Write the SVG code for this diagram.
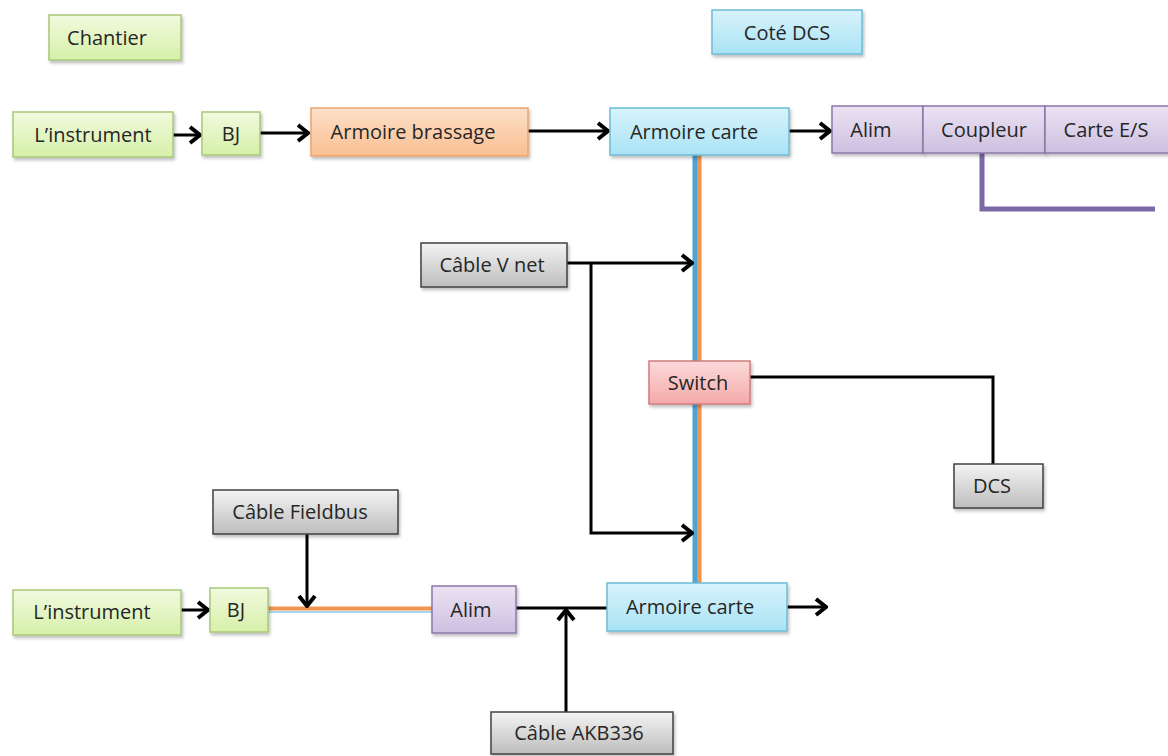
<svg xmlns="http://www.w3.org/2000/svg" width="1168" height="756" viewBox="0 0 1168 756">
<defs>
  <linearGradient id="gGreen" x1="0" y1="0" x2="0" y2="1"><stop offset="0" stop-color="#f1fadf"/><stop offset="1" stop-color="#d6f0a8"/></linearGradient>
  <linearGradient id="gOrange" x1="0" y1="0" x2="0" y2="1"><stop offset="0" stop-color="#fde0c8"/><stop offset="1" stop-color="#f9bf92"/></linearGradient>
  <linearGradient id="gBlue" x1="0" y1="0" x2="0" y2="1"><stop offset="0" stop-color="#d8f3fb"/><stop offset="1" stop-color="#a9e3f5"/></linearGradient>
  <linearGradient id="gPurple" x1="0" y1="0" x2="0" y2="1"><stop offset="0" stop-color="#ebe3f3"/><stop offset="1" stop-color="#cdbfe0"/></linearGradient>
  <linearGradient id="gPink" x1="0" y1="0" x2="0" y2="1"><stop offset="0" stop-color="#fcdada"/><stop offset="1" stop-color="#f5a9a9"/></linearGradient>
  <linearGradient id="gGray" x1="0" y1="0" x2="0" y2="1"><stop offset="0" stop-color="#f4f4f4"/><stop offset="1" stop-color="#bdbdbd"/></linearGradient>
  <filter id="sh" x="-10%" y="-20%" width="130%" height="160%"><feDropShadow dx="1.5" dy="2.5" stdDeviation="1.5" flood-color="#000" flood-opacity="0.25"/></filter>
  <marker id="arr" markerUnits="userSpaceOnUse" viewBox="-13 -10 15 20" refX="0" refY="0" markerWidth="15" markerHeight="20" orient="auto">
    <path d="M-10,-8 L0,0 L-10,8" fill="none" stroke="#000" stroke-width="4" stroke-linejoin="miter"/>
  </marker>
</defs>
<style>
  text { font-family: "Open Sans", "Liberation Sans", sans-serif; font-size: 20px; fill: #262626; text-anchor: middle; }
  .box { filter: url(#sh); stroke-width: 1.5; }
  .green { fill: url(#gGreen); stroke: #a9c77a; }
  .orange { fill: url(#gOrange); stroke: #eba46e; }
  .blue { fill: url(#gBlue); stroke: #6bbcd6; }
  .purple { fill: url(#gPurple); stroke: #8b78a8; }
  .pink { fill: url(#gPink); stroke: #d07c7c; }
  .gray { fill: url(#gGray); stroke: #404040; }
  .ln { fill: none; stroke: #000; stroke-width: 3; }
  .arrow { marker-end: url(#arr); }
</style>
<rect width="1168" height="756" fill="#fff"/>

<g id="connectors">
  <rect x="692.5" y="155" width="4.5" height="430" fill="#4ba6d4"/>
  <rect x="697" y="155" width="4.5" height="430" fill="#f0944e"/>
  <line class="ln arrow" x1="173" y1="135" x2="200" y2="135"/>
  <line class="ln arrow" x1="260" y1="133" x2="308" y2="133"/>
  <line class="ln arrow" x1="528" y1="131" x2="608" y2="131"/>
  <line class="ln arrow" x1="789" y1="131" x2="830" y2="131"/>
  <polyline points="982,153 982,209 1155,209" fill="none" stroke="#7d68a6" stroke-width="5"/>
  <line class="ln arrow" x1="567" y1="263" x2="692" y2="263"/>
  <polyline class="ln arrow" points="591,263 591,533 692,533"/>
  <polyline class="ln" points="750,377 993,377 993,464"/>
  <line class="ln arrow" x1="181" y1="610" x2="208" y2="610"/>
  <line x1="268" y1="612" x2="432" y2="612" stroke="#a9d6ee" stroke-width="2"/>
  <line x1="268" y1="608.5" x2="432" y2="608.5" stroke="#f0944e" stroke-width="4"/>
  <line class="ln arrow" x1="307" y1="534" x2="307" y2="606"/>
  <line class="ln" x1="516" y1="608" x2="607" y2="608"/>
  <line class="ln arrow" x1="566" y1="712" x2="566" y2="610"/>
  <line class="ln arrow" x1="787" y1="607" x2="826" y2="607"/>
</g>

<g id="chantier"><rect class="box green" x="49" y="15" width="132" height="45"/><text x="107" y="45">Chantier</text></g>
<g id="cote-dcs"><rect class="box blue" x="712" y="10" width="150" height="44"/><text x="787" y="40">Coté DCS</text></g>

<g id="instrument1"><rect class="box green" x="13" y="112" width="160" height="45"/><text x="93" y="142">L’instrument</text></g>
<g id="bj1"><rect class="box green" x="202" y="112" width="58" height="43"/><text x="231" y="141">BJ</text></g>
<g id="armoire-brassage"><rect class="box orange" x="311" y="108" width="217" height="48"/><text x="413" y="139">Armoire brassage</text></g>
<g id="armoire-carte1"><rect class="box blue" x="610" y="108" width="179" height="47"/><text x="694" y="139">Armoire carte</text></g>
<g id="alim1"><rect class="box purple" x="832" y="106" width="91" height="47"/><text x="871" y="137">Alim</text></g>
<g id="coupleur"><rect class="box purple" x="923" y="106" width="122" height="47"/><text x="984" y="137">Coupleur</text></g>
<g id="carte-es"><rect class="box purple" x="1045" y="106" width="130" height="47"/><text x="1106" y="137">Carte E/S</text></g>

<g id="cable-vnet"><rect class="box gray" x="421" y="243" width="146" height="44"/><text x="492" y="272">Câble V net</text></g>
<g id="switch"><rect class="box pink" x="649" y="361" width="101" height="43"/><text x="698" y="390">Switch</text></g>
<g id="dcs"><rect class="box gray" x="954" y="464" width="89" height="44"/><text x="992" y="493">DCS</text></g>

<g id="cable-fieldbus"><rect class="box gray" x="213" y="490" width="185" height="44"/><text x="300" y="519">Câble Fieldbus</text></g>
<g id="instrument2"><rect class="box green" x="13" y="590" width="168" height="45"/><text x="92" y="619">L’instrument</text></g>
<g id="bj2"><rect class="box green" x="210" y="588" width="58" height="44"/><text x="236" y="617">BJ</text></g>
<g id="alim2"><rect class="box purple" x="432" y="586" width="84" height="47"/><text x="471" y="617">Alim</text></g>
<g id="armoire-carte2"><rect class="box blue" x="607" y="583" width="180" height="48"/><text x="690" y="614">Armoire carte</text></g>
<g id="cable-akb"><rect class="box gray" x="491" y="712" width="182" height="42"/><text x="579" y="740">Câble AKB336</text></g>
</svg>
